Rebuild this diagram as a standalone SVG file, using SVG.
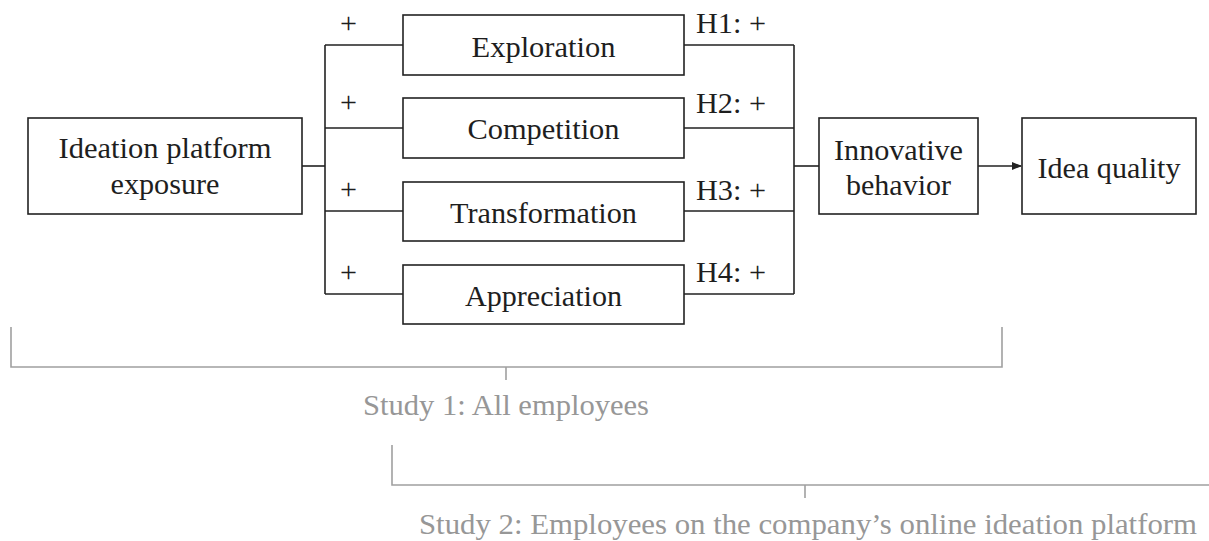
<svg xmlns="http://www.w3.org/2000/svg" width="1209" height="541" viewBox="0 0 1209 541" font-family="'Liberation Serif', Tinos, 'Times New Roman', Times, 'DejaVu Serif', serif">
<style>
.box{fill:#fff;stroke:#222;stroke-width:1.6}
.t{font-size:30px;fill:#1e1e1e;text-anchor:middle}
.l{font-size:30px;fill:#1e1e1e}
.c{fill:none;stroke:#222;stroke-width:1.6}
.g{fill:none;stroke:#a0a0a0;stroke-width:1.6}
.gt{font-size:30px;fill:#979797}
</style>
<defs>
<marker id="ah" markerWidth="10" markerHeight="8" refX="9" refY="4" orient="auto" markerUnits="userSpaceOnUse">
<path d="M0,0 L10,4 L0,8 Z" fill="#222"/>
</marker>
</defs>
<g id="connectors">
<path class="c" d="M302,166 H325" stroke-width="2.4"/>
<path class="c" d="M325,45 V294"/>
<path class="c" d="M325,45 H403 M325,128 H403 M325,211 H403 M325,294 H403"/>
<path class="c" d="M684,45 H794 M684,128 H794 M684,211 H794 M684,294 H794"/>
<path class="c" d="M794,45 V294"/>
<path class="c" d="M794,166 H819" stroke-width="2.4"/>
<path class="c" d="M978,166 H1021" marker-end="url(#ah)"/>
<text class="l" x="340" y="33" textLength="17" lengthAdjust="spacingAndGlyphs">+</text>
<text class="l" x="340" y="112" textLength="17" lengthAdjust="spacingAndGlyphs">+</text>
<text class="l" x="340" y="199" textLength="17" lengthAdjust="spacingAndGlyphs">+</text>
<text class="l" x="340" y="282" textLength="17" lengthAdjust="spacingAndGlyphs">+</text>
<text class="l" x="696" y="33" textLength="70" lengthAdjust="spacingAndGlyphs">H1: +</text>
<text class="l" x="696" y="113" textLength="70" lengthAdjust="spacingAndGlyphs">H2: +</text>
<text class="l" x="696" y="200" textLength="70" lengthAdjust="spacingAndGlyphs">H3: +</text>
<text class="l" x="696" y="282" textLength="70" lengthAdjust="spacingAndGlyphs">H4: +</text>
</g>
<g id="ideation">
<rect class="box" x="28" y="118" width="274" height="96"/>
<text class="t" x="165" y="158" textLength="213" lengthAdjust="spacingAndGlyphs">Ideation platform</text>
<text class="t" x="165" y="194" textLength="109" lengthAdjust="spacingAndGlyphs">exposure</text>
</g>
<g id="exploration">
<rect class="box" x="403" y="15" width="281" height="60"/>
<text class="t" x="543.5" y="57" textLength="144" lengthAdjust="spacingAndGlyphs">Exploration</text>
</g>
<g id="competition">
<rect class="box" x="403" y="98" width="281" height="60"/>
<text class="t" x="543.5" y="139" textLength="152" lengthAdjust="spacingAndGlyphs">Competition</text>
</g>
<g id="transformation">
<rect class="box" x="403" y="182" width="281" height="59"/>
<text class="t" x="543.5" y="223" textLength="187" lengthAdjust="spacingAndGlyphs">Transformation</text>
</g>
<g id="appreciation">
<rect class="box" x="403" y="265" width="281" height="59"/>
<text class="t" x="543.5" y="306" textLength="157" lengthAdjust="spacingAndGlyphs">Appreciation</text>
</g>
<g id="innovative">
<rect class="box" x="819" y="118" width="159" height="96"/>
<text class="t" x="898.5" y="160" textLength="129" lengthAdjust="spacingAndGlyphs">Innovative</text>
<text class="t" x="898.5" y="195" textLength="105" lengthAdjust="spacingAndGlyphs">behavior</text>
</g>
<g id="idea-quality">
<rect class="box" x="1022" y="118" width="174" height="96"/>
<text class="t" x="1109" y="178" textLength="143" lengthAdjust="spacingAndGlyphs">Idea quality</text>
</g>
<g id="study1">
<path class="g" d="M11,327 V367 H1002 V327 M506,367 V380"/>
<text class="gt" x="363" y="415" textLength="286" lengthAdjust="spacingAndGlyphs">Study 1: All employees</text>
</g>
<g id="study2">
<path class="g" d="M392,445 V485 H1209 M805,485 V498"/>
<text class="gt" x="419" y="534" textLength="778" lengthAdjust="spacingAndGlyphs">Study 2: Employees on the company’s online ideation platform</text>
</g>
</svg>
